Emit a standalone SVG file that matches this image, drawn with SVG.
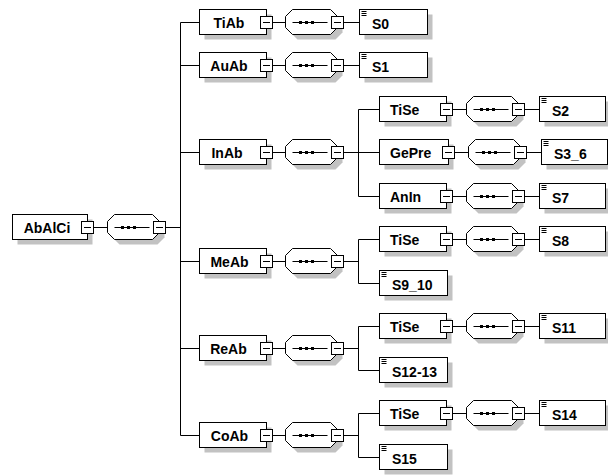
<svg xmlns="http://www.w3.org/2000/svg" xmlns:xlink="http://www.w3.org/1999/xlink" width="608" height="475" viewBox="0 0 608 475">
<style>
.bg{fill:#fff}
.box{fill:#fff;stroke:#000;stroke-width:1}
.sh{fill:#c2c2c2;stroke:none}
.tog{fill:#fff;stroke:#000;stroke-width:1}
.ln{stroke:#000;stroke-width:1;fill:none}
.lbl{font-family:"Liberation Sans",Arial,sans-serif;font-weight:bold;font-size:14px;fill:#000}
.mid{text-anchor:middle}
</style>
<defs>
<g id="tog"><rect class="tog" x="-6" y="-6" width="12" height="12"/><line class="ln" x1="-3.5" y1="0" x2="3.5" y2="0"/></g>
<g id="seq">
<polygon class="sh" points="12,-8 50,-8 57,-1 57,10 50,17 12,17 5,10 5,-1"/>
<polygon class="box" points="7,-13 45,-13 52,-6 52,5 45,12 7,12 0,5 0,-6"/>
<line class="ln" x1="7" y1="0" x2="42" y2="0"/>
<rect x="13.5" y="-1.5" width="3" height="3" fill="#000"/>
<rect x="19.5" y="-1.5" width="3" height="3" fill="#000"/>
<rect x="25.5" y="-1.5" width="3" height="3" fill="#000"/>
<use xlink:href="#tog" href="#tog" x="52" y="0"/>
</g>
<g id="ico"><line class="ln" x1="2" y1="2" x2="7" y2="2"/><line class="ln" x1="2" y1="4" x2="7" y2="4"/><line class="ln" x1="2" y1="6" x2="7" y2="6"/></g>
</defs>
<rect class="bg" x="0" y="0" width="608" height="475"/>
<g id="connectors">
<path class="ln" d="M93.5,227.5H107.5 M165.5,227.5H180.5 M180.5,22.5V435.5
M180.5,22.5H199.5 M180.5,65.5H199.5 M180.5,152.5H199.5 M180.5,261.5H199.5 M180.5,348.5H199.5 M180.5,435.5H199.5
M272.5,22.5H285.5 M272.5,65.5H285.5 M272.5,152.5H285.5 M272.5,261.5H285.5 M272.5,348.5H285.5 M272.5,435.5H285.5
M343.5,22.5H359.5 M343.5,65.5H359.5 M343.5,152.5H358.5 M343.5,261.5H358.5 M343.5,348.5H358.5 M343.5,435.5H358.5
M358.5,109.5V196.5 M358.5,239.5V283.5 M358.5,326.5V370.5 M358.5,413.5V457.5
M358.5,109.5H379.5 M358.5,152.5H379.5 M358.5,196.5H379.5 M358.5,239.5H379.5 M358.5,283.5H379.5 M358.5,326.5H379.5 M358.5,370.5H379.5 M358.5,413.5H379.5 M358.5,457.5H379.5
M452.5,109.5H466.5 M452.5,196.5H466.5 M452.5,239.5H466.5 M452.5,326.5H466.5 M452.5,413.5H466.5
M524.5,109.5H539.5 M524.5,196.5H539.5 M524.5,239.5H539.5 M524.5,326.5H539.5 M524.5,413.5H539.5
M454.5,152.5H468.5 M526.5,152.5H541.5"/>
</g>
<g id="AbAlCi"><rect class="sh" x="17.5" y="219.5" width="75" height="25"/><rect class="box" x="12.5" y="214.5" width="75" height="25"/><text class="lbl mid" x="47" y="232.5">AbAlCi</text><use xlink:href="#tog" href="#tog" x="87.5" y="227.5"/></g>
<g id="seq0"><use xlink:href="#seq" href="#seq" x="107.5" y="227.5"/></g>

<g id="TiAb"><rect class="sh" x="204.5" y="14.5" width="67" height="25"/><rect class="box" x="199.5" y="9.5" width="67" height="25"/><text class="lbl mid" x="229" y="27.5">TiAb</text><use xlink:href="#tog" href="#tog" x="266.5" y="22.5"/></g>
<g id="seq-TiAb"><use xlink:href="#seq" href="#seq" x="285.5" y="22.5"/></g>
<g id="S0"><rect class="sh" x="364.5" y="14.5" width="68" height="25"/><rect class="box" x="359.5" y="9.5" width="68" height="25"/><use xlink:href="#ico" href="#ico" x="359.5" y="9.5"/><text class="lbl" x="372" y="28.5">S0</text></g>

<g id="AuAb"><rect class="sh" x="204.5" y="57.5" width="67" height="25"/><rect class="box" x="199.5" y="52.5" width="67" height="25"/><text class="lbl mid" x="229" y="70.5">AuAb</text><use xlink:href="#tog" href="#tog" x="266.5" y="65.5"/></g>
<g id="seq-AuAb"><use xlink:href="#seq" href="#seq" x="285.5" y="65.5"/></g>
<g id="S1"><rect class="sh" x="364.5" y="57.5" width="68" height="25"/><rect class="box" x="359.5" y="52.5" width="68" height="25"/><use xlink:href="#ico" href="#ico" x="359.5" y="52.5"/><text class="lbl" x="372" y="71.5">S1</text></g>

<g id="InAb"><rect class="sh" x="204.5" y="144.5" width="67" height="25"/><rect class="box" x="199.5" y="139.5" width="67" height="25"/><text class="lbl mid" x="227" y="157.5">InAb</text><use xlink:href="#tog" href="#tog" x="266.5" y="152.5"/></g>
<g id="seq-InAb"><use xlink:href="#seq" href="#seq" x="285.5" y="152.5"/></g>
<g id="TiSe1"><rect class="sh" x="384.5" y="101.5" width="67" height="25"/><rect class="box" x="379.5" y="96.5" width="67" height="25"/><text class="lbl" x="390" y="114.5">TiSe</text><use xlink:href="#tog" href="#tog" x="446.5" y="109.5"/></g>
<g id="seq-TiSe1"><use xlink:href="#seq" href="#seq" x="466.5" y="109.5"/></g>
<g id="S2"><rect class="sh" x="544.5" y="101.5" width="66" height="25"/><rect class="box" x="539.5" y="96.5" width="66" height="25"/><use xlink:href="#ico" href="#ico" x="539.5" y="96.5"/><text class="lbl" x="552" y="115.5">S2</text></g>
<g id="GePre"><rect class="sh" x="384.5" y="144.5" width="69" height="25"/><rect class="box" x="379.5" y="139.5" width="69" height="25"/><text class="lbl" x="390" y="157.5">GePre</text><use xlink:href="#tog" href="#tog" x="448.5" y="152.5"/></g>
<g id="seq-GePre"><use xlink:href="#seq" href="#seq" x="468.5" y="152.5"/></g>
<g id="S3_6"><rect class="sh" x="546.5" y="144.5" width="66" height="25"/><rect class="box" x="541.5" y="139.5" width="66" height="25"/><use xlink:href="#ico" href="#ico" x="541.5" y="139.5"/><text class="lbl" x="554" y="158.5">S3_6</text></g>
<g id="AnIn"><rect class="sh" x="384.5" y="188.5" width="67" height="25"/><rect class="box" x="379.5" y="183.5" width="67" height="25"/><text class="lbl" x="390" y="201.5">AnIn</text><use xlink:href="#tog" href="#tog" x="446.5" y="196.5"/></g>
<g id="seq-AnIn"><use xlink:href="#seq" href="#seq" x="466.5" y="196.5"/></g>
<g id="S7"><rect class="sh" x="544.5" y="188.5" width="66" height="25"/><rect class="box" x="539.5" y="183.5" width="66" height="25"/><use xlink:href="#ico" href="#ico" x="539.5" y="183.5"/><text class="lbl" x="552" y="202.5">S7</text></g>

<g id="MeAb"><rect class="sh" x="204.5" y="253.5" width="67" height="25"/><rect class="box" x="199.5" y="248.5" width="67" height="25"/><text class="lbl mid" x="229.5" y="266.5">MeAb</text><use xlink:href="#tog" href="#tog" x="266.5" y="261.5"/></g>
<g id="seq-MeAb"><use xlink:href="#seq" href="#seq" x="285.5" y="261.5"/></g>
<g id="TiSe2"><rect class="sh" x="384.5" y="231.5" width="67" height="25"/><rect class="box" x="379.5" y="226.5" width="67" height="25"/><text class="lbl" x="390" y="244.5">TiSe</text><use xlink:href="#tog" href="#tog" x="446.5" y="239.5"/></g>
<g id="seq-TiSe2"><use xlink:href="#seq" href="#seq" x="466.5" y="239.5"/></g>
<g id="S8"><rect class="sh" x="544.5" y="231.5" width="66" height="25"/><rect class="box" x="539.5" y="226.5" width="66" height="25"/><use xlink:href="#ico" href="#ico" x="539.5" y="226.5"/><text class="lbl" x="552" y="245.5">S8</text></g>
<g id="S9_10"><rect class="sh" x="384.5" y="275.5" width="68" height="25"/><rect class="box" x="379.5" y="270.5" width="68" height="25"/><use xlink:href="#ico" href="#ico" x="379.5" y="270.5"/><text class="lbl" x="392" y="289.5">S9_10</text></g>

<g id="ReAb"><rect class="sh" x="204.5" y="340.5" width="67" height="25"/><rect class="box" x="199.5" y="335.5" width="67" height="25"/><text class="lbl mid" x="228.5" y="353.5">ReAb</text><use xlink:href="#tog" href="#tog" x="266.5" y="348.5"/></g>
<g id="seq-ReAb"><use xlink:href="#seq" href="#seq" x="285.5" y="348.5"/></g>
<g id="TiSe3"><rect class="sh" x="384.5" y="318.5" width="67" height="25"/><rect class="box" x="379.5" y="313.5" width="67" height="25"/><text class="lbl" x="390" y="331.5">TiSe</text><use xlink:href="#tog" href="#tog" x="446.5" y="326.5"/></g>
<g id="seq-TiSe3"><use xlink:href="#seq" href="#seq" x="466.5" y="326.5"/></g>
<g id="S11"><rect class="sh" x="544.5" y="318.5" width="66" height="25"/><rect class="box" x="539.5" y="313.5" width="66" height="25"/><use xlink:href="#ico" href="#ico" x="539.5" y="313.5"/><text class="lbl" x="552" y="332.5">S11</text></g>
<g id="S12-13"><rect class="sh" x="384.5" y="362.5" width="68" height="25"/><rect class="box" x="379.5" y="357.5" width="68" height="25"/><use xlink:href="#ico" href="#ico" x="379.5" y="357.5"/><text class="lbl" x="392" y="376.5">S12-13</text></g>

<g id="CoAb"><rect class="sh" x="204.5" y="427.5" width="67" height="25"/><rect class="box" x="199.5" y="422.5" width="67" height="25"/><text class="lbl mid" x="229.5" y="440.5">CoAb</text><use xlink:href="#tog" href="#tog" x="266.5" y="435.5"/></g>
<g id="seq-CoAb"><use xlink:href="#seq" href="#seq" x="285.5" y="435.5"/></g>
<g id="TiSe4"><rect class="sh" x="384.5" y="405.5" width="67" height="25"/><rect class="box" x="379.5" y="400.5" width="67" height="25"/><text class="lbl" x="390" y="418.5">TiSe</text><use xlink:href="#tog" href="#tog" x="446.5" y="413.5"/></g>
<g id="seq-TiSe4"><use xlink:href="#seq" href="#seq" x="466.5" y="413.5"/></g>
<g id="S14"><rect class="sh" x="544.5" y="405.5" width="66" height="25"/><rect class="box" x="539.5" y="400.5" width="66" height="25"/><use xlink:href="#ico" href="#ico" x="539.5" y="400.5"/><text class="lbl" x="552" y="419.5">S14</text></g>
<g id="S15"><rect class="sh" x="384.5" y="449.5" width="68" height="25"/><rect class="box" x="379.5" y="444.5" width="68" height="25"/><use xlink:href="#ico" href="#ico" x="379.5" y="444.5"/><text class="lbl" x="392" y="463.5">S15</text></g>
</svg>
